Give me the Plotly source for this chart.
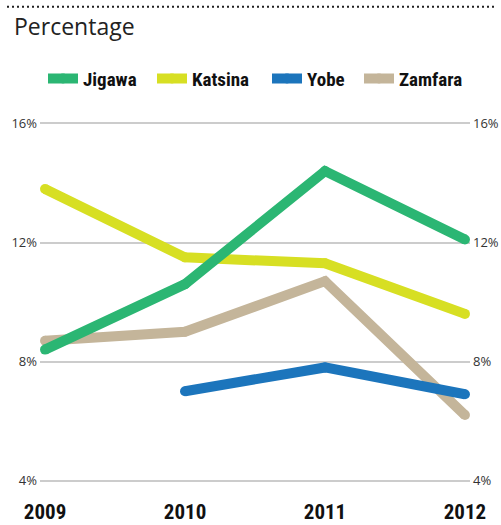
import plotly.graph_objects as go

years = [2009, 2010, 2011, 2012]
jigawa = [8.4, 10.6, 14.4, 12.1]
katsina = [13.8, 11.5, 11.3, 9.6]
yobe = [None, 7.0, 7.8, 6.9]
zamfara = [8.7, 9.0, 10.7, 6.2]

series = [
    ("Jigawa", jigawa, "#2bb673"),
    ("Katsina", katsina, "#d7df23"),
    ("Yobe", yobe, "#1c75bc"),
    ("Zamfara", zamfara, "#c4b59a"),
]

y_ticks = [4, 8, 12, 16]
y_labels = ["4%", "8%", "12%", "16%"]

# legend swatch left edges (px) for each series
legend_px = [48, 157, 272, 364]

L, R, T, B = 40, 31, 121.5, 42.5
PW = 501 - L - R
PH = 525 - T - B

cond_font = "Noto Sans Condensed, Liberation Sans Narrow, Roboto Condensed, Roboto, sans-serif"
label_font = dict(family="Open Sans, DejaVu Sans, sans-serif", size=13, color="#333333")

fig = go.Figure()
order = [3, 2, 1, 0]
legend_ids = ["legend", "legend2", "legend3", "legend4"]
for i in order:
    name, vals, col = series[i]
    fig.add_trace(go.Scatter(
        x=years, y=vals, name=name, mode="lines+markers",
        line=dict(color=col, width=10),
        marker=dict(color=col, size=10, line=dict(width=0)),
        legend=legend_ids[i], cliponaxis=False, hoverinfo="skip",
    ))

legends = {}
for i, lid in enumerate(legend_ids):
    legends[lid] = dict(
        orientation="h", x=(legend_px[i] - 5 - L) / PW, xanchor="left",
        y=(525 - B - 78) / PH, yanchor="middle",
        font=dict(family=cond_font, size=19, color="#111111", weight="bold"),
        itemwidth=30, bgcolor="rgba(0,0,0,0)",
    )

fig.update_layout(
    width=501, height=525,
    margin=dict(l=L, r=R, t=T, b=B, autoexpand=False),
    paper_bgcolor="white", plot_bgcolor="white",
    showlegend=True,
    title=dict(
        text="Percentage", x=14 / 501, xref="container", xanchor="left",
        y=1 - 27 / 525, yref="container", yanchor="middle",
        font=dict(family="Open Sans, DejaVu Sans, sans-serif", size=23, color="#222222"),
    ),
    xaxis=dict(
        range=[2008.964, 2012.036], tickvals=years, ticktext=[str(y) for y in years],
        showgrid=False, zeroline=False, showline=False, ticks="",
        tickfont=dict(family=cond_font, size=21, color="#111111", weight="bold"),
        ticklabelstandoff=15, automargin=False, fixedrange=True,
    ),
    yaxis=dict(
        range=[3.95, 16.05], tickvals=y_ticks, ticktext=y_labels,
        showgrid=True, gridcolor="#cccccc", gridwidth=1.5,
        zeroline=False, showline=False, ticks="", tickfont=label_font,
        ticklabelstandoff=2, automargin=False, fixedrange=True,
    ),
    yaxis2=dict(
        range=[3.95, 16.05], tickvals=y_ticks, ticktext=y_labels, overlaying="y",
        side="right", matches="y", showgrid=False, zeroline=False, showline=False,
        ticks="", tickfont=label_font, ticklabelstandoff=2, automargin=False,
        fixedrange=True,
    ),
    shapes=[dict(
        type="line", xref="paper", yref="paper",
        x0=(7 - L) / PW, x1=(497 - L) / PW,
        y0=(525 - B - 6) / PH, y1=(525 - B - 6) / PH,
        line=dict(color="#222222", width=2, dash="2px,3px"),
    )],
    **legends,
)
fig.add_trace(go.Scatter(x=[2009], y=[None], yaxis="y2", showlegend=False, hoverinfo="skip"))

fig.write_html("out.html", post_script="document.body.style.margin='0';",
               config={"displayModeBar": False})
